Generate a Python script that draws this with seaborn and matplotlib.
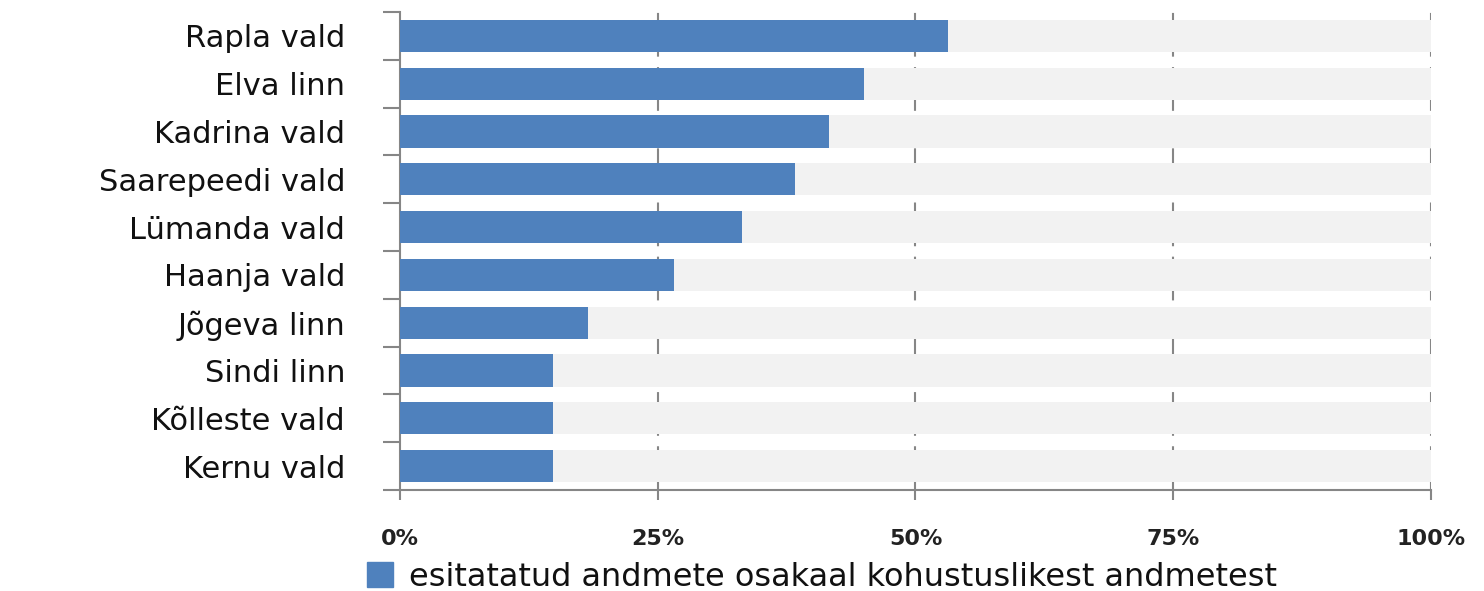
import matplotlib
matplotlib.use('Agg')
import matplotlib.pyplot as plt
from matplotlib.patches import Patch
from matplotlib.ticker import FixedLocator
import pandas as pd
import seaborn as sns

# data
places = ['Rapla vald', 'Elva linn', 'Kadrina vald', 'Saarepeedi vald', 'Lümanda vald',
          'Haanja vald', 'Jõgeva linn', 'Sindi linn', 'Kõlleste vald', 'Kernu vald']
share = [53.2, 45.0, 41.6, 38.3, 33.2, 26.6, 18.2, 14.8, 14.8, 14.8]
full = [100] * len(places)
x_ticks = [0, 25, 50, 75, 100]
x_labels = ['0%', '25%', '50%', '75%', '100%']
legend_label = 'esitatatud andmete osakaal kohustuslikest andmetest'

blue = '#4f81bd'
bg = '#f2f2f2'
axis_col = '#868686'

sns.set_style('white')
plt.rcParams['font.family'] = ['DejaVu Sans']

df = pd.DataFrame({'place': places, 'share': share, 'full': full})

fig = plt.figure(figsize=(14.84, 5.91), dpi=100)
ax = fig.add_axes([0.2695, 0.1709, 0.6948, 0.8088])

# grey "100%" backdrop, then the actual shares on top
sns.barplot(data=df, x='full', y='place', orient='h', color=bg, width=0.67,
            saturation=1, ax=ax, zorder=2, linewidth=0)
sns.barplot(data=df, x='share', y='place', orient='h', color=blue, width=0.67,
            saturation=1, ax=ax, zorder=3, linewidth=0)

ax.set_xlim(0, 100)
ax.set_ylim(len(places) - 0.5, -0.5)
ax.set_xticks(x_ticks)
ax.set_xticklabels(x_labels, fontsize=16, color='#222222', fontweight='bold')
for t in x_ticks[1:]:
    ax.axvline(t, color=axis_col, lw=1.5, ls=(0, (8, 5)), zorder=1)

ax.yaxis.set_minor_locator(FixedLocator([i - 0.5 for i in range(len(places) + 1)]))
ax.tick_params(axis='y', which='major', left=False, labelsize=22, pad=36, labelcolor='#111111')
ax.tick_params(axis='y', which='minor', left=True, length=12, width=1.5, color=axis_col, direction='out')
ax.tick_params(axis='x', which='major', bottom=True, length=7, width=1.5, color=axis_col,
               direction='out', pad=21)
ax.set_xlabel('')
ax.set_ylabel('')

for s in ['top', 'right']:
    ax.spines[s].set_visible(False)
for s in ['left', 'bottom']:
    ax.spines[s].set_color(axis_col)
    ax.spines[s].set_linewidth(1.5)

handles = [Patch(color=blue, label=legend_label)]
fig.legend(handles=handles, loc='center', bbox_to_anchor=(822 / 1484, 1 - 577 / 591),
           frameon=False, fontsize=23, handlelength=0.8, handleheight=0.8, handletextpad=0.5,
           labelcolor='#111111', borderpad=0.1)

fig.savefig('out.png', dpi=100)
